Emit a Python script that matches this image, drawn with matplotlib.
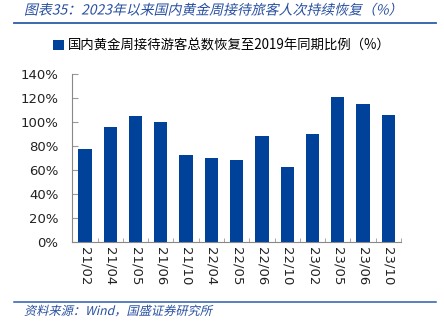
import matplotlib.pyplot as plt
from matplotlib.lines import Line2D
from matplotlib.textpath import TextPath
from matplotlib.patches import PathPatch
from matplotlib.font_manager import FontProperties
from matplotlib.transforms import Affine2D
import numpy as np

plt.rcParams['font.family'] = ['Noto Sans CJK SC', 'DejaVu Sans']

categories = ['21/02', '21/04', '21/05', '21/06', '21/10', '22/04', '22/05',
              '22/06', '22/10', '23/02', '23/05', '23/06', '23/10']
recovery = [77, 96, 105, 100, 72, 69.5, 68, 88, 62, 90, 121, 114.5, 106]
yticks = [0, 20, 40, 60, 80, 100, 120, 140]

title = '图表35：2023年以来国内黄金周接待旅客人次持续恢复（%）'
series_name = '国内黄金周接待游客总数恢复至2019年同期比例（%）'
source = '资料来源：Wind，国盛证券研究所'

bar_color = '#00419A'
text_blue = '#2850A0'

fig = plt.figure(figsize=(4.44, 3.31), dpi=100)
W, H = 444, 331
ax = fig.add_axes([72.3 / W, 1 - 241.7 / H, (401 - 72.3) / W, (241.7 - 73.7) / H])

x = np.arange(len(categories))
ax.bar(x, recovery, width=0.53, color=bar_color, label=series_name, zorder=2)

ax.set_xlim(-0.5, len(categories) - 0.5)
ax.set_ylim(0, 140)
ax.set_yticks(yticks)
ax.set_yticklabels([f'{v}%' for v in yticks], fontsize=9.5, color='#222222',
                   family=['DejaVu Sans'])
ax.set_xticks(x)
ax.set_xticklabels(categories, rotation=270, fontsize=9.5, color='#222222',
                   family=['DejaVu Sans'])
ax.set_xticks(np.arange(len(categories) + 1) - 0.5, minor=True)
ax.tick_params(axis='x', which='major', length=0, pad=4)
ax.tick_params(axis='x', which='minor', direction='in', length=3, color='#999999')
ax.tick_params(axis='y', direction='in', length=4, color='#999999', pad=10)

for s in ['top', 'right']:
    ax.spines[s].set_visible(False)
for s in ['left', 'bottom']:
    ax.spines[s].set_color('#888888')
    ax.spines[s].set_linewidth(0.8)

fig.legend(loc='center', bbox_to_anchor=(0.5, 1 - 46 / H), frameon=False,
           fontsize=9.6, handlelength=0.8, handleheight=0.8, handletextpad=0.3)


def slanted_text(s, x_px, base_px, size, color):
    # CJK font has no italic, so shear the glyph outlines by hand
    tp = TextPath((0, 0), s, size=size, prop=FontProperties(family='Noto Sans CJK SC'))
    tr = (Affine2D().skew_deg(13, 0).scale(1 / 72)
          .translate(x_px / 100, (H - base_px) / 100) + fig.dpi_scale_trans)
    fig.add_artist(PathPatch(tp, transform=tr, facecolor=color, edgecolor='none'))


slanted_text(title, 24, 14.5, 10, text_blue)
fig.add_artist(Line2D([14 / W, 436 / W], [1 - 23 / H, 1 - 23 / H],
                      color='#2E5DA8', linewidth=1.3))
fig.add_artist(Line2D([14 / W, 436 / W], [1 - 302 / H, 1 - 302 / H],
                      color='#2E5DA8', linewidth=1.1))
slanted_text(source, 24, 315, 8.8, text_blue)

fig.savefig('out.png', dpi=100)
